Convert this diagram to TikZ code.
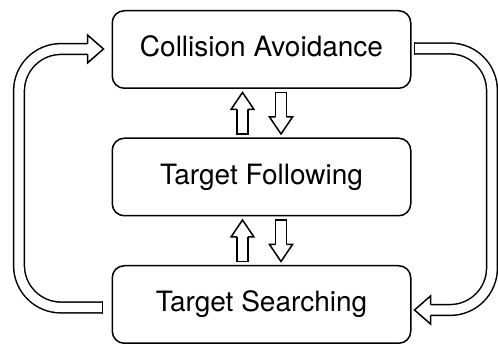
\documentclass[tikz,border=0pt]{standalone}
\usepackage{fontspec}
\setmainfont{TeX Gyre Heros}
\usepackage{tikz}

\tikzset{
  state/.style={draw, rounded corners=12pt, minimum width=298.5pt, minimum height=77.5pt,
    text height=20.5pt, text depth=5.5pt, font=\fontsize{28pt}{32pt}\selectfont},
  shaft/.style={double, double distance=9.3pt},
}
% hollow head: tip, direction, length, half width
\newcommand{\hollowtip}[4]{%
  \filldraw[fill=white, line join=miter, shift={(#1)}, rotate=#2]
    (-#3,5.4pt) -- (-#3,#4) -- (0,0) -- (-#3,-#4) -- (-#3,-5.4pt);}
% closes the open end of a shaft
\newcommand{\hollowtail}[2]{%
  \draw[shift={(#1)}, rotate=#2] (0,-6.15pt) -- (0,6.15pt);}

\begin{document}
\begin{tikzpicture}[line width=1.5pt, x=1pt, y=1pt]
  \useasboundingbox (0,0) rectangle (498,345);
  \node[state] (col) at (261.5,295.5) {Collision Avoidance};
  \node[state] (fol) at (261.5,168) {Target Following};
  \node[state] (srch) at (261.5,40.5) {Target Searching};
  % up and down between the boxes
  \foreach \hi/\lo in {col/fol, fol/srch} {
    \coordinate (up tail) at ([xshift=-19pt,yshift=3.5pt]\lo.north);
    \coordinate (up tip) at ([xshift=-19pt,yshift=-3.5pt]\hi.south);
    \draw[shaft] (up tail) -- ([yshift=-16.3pt]up tip);
    \hollowtip{up tip}{90}{17pt}{11.5pt}
    \hollowtail{up tail}{90}
    \coordinate (dn tail) at ([xshift=19.5pt,yshift=-3.5pt]\hi.south);
    \coordinate (dn tip) at ([xshift=19.5pt,yshift=3.5pt]\lo.north);
    \draw[shaft] (dn tail) -- ([yshift=16.3pt]dn tip);
    \hollowtip{dn tip}{-90}{17pt}{11.5pt}
    \hollowtail{dn tail}{90}
  }
  % the two loops
  \coordinate (lcol) at (19,0);
  \coordinate (rcol) at (492,0);
  \coordinate (tailL) at ([xshift=-9pt,yshift=-3pt]srch.west);
  \coordinate (tipL) at ([xshift=-8pt,yshift=0.5pt]col.west);
  \coordinate (baseL) at ([xshift=-15.3pt]tipL);
  \draw[shaft, rounded corners=42pt] (tailL) -| (lcol |- baseL) -- (baseL);
  \hollowtip{tipL}{0}{16pt}{14pt}
  \hollowtail{tailL}{0}
  \coordinate (tailR) at ([xshift=3pt,yshift=1pt]col.east);
  \coordinate (tipR) at ([xshift=3pt,yshift=-5.5pt]srch.east);
  \coordinate (baseR) at ([xshift=15.3pt]tipR);
  \draw[shaft, rounded corners=42pt] (tailR) -| (rcol |- baseR) -- (baseR);
  \hollowtip{tipR}{180}{16pt}{14pt}
  \hollowtail{tailR}{0}
\end{tikzpicture}
\end{document}
